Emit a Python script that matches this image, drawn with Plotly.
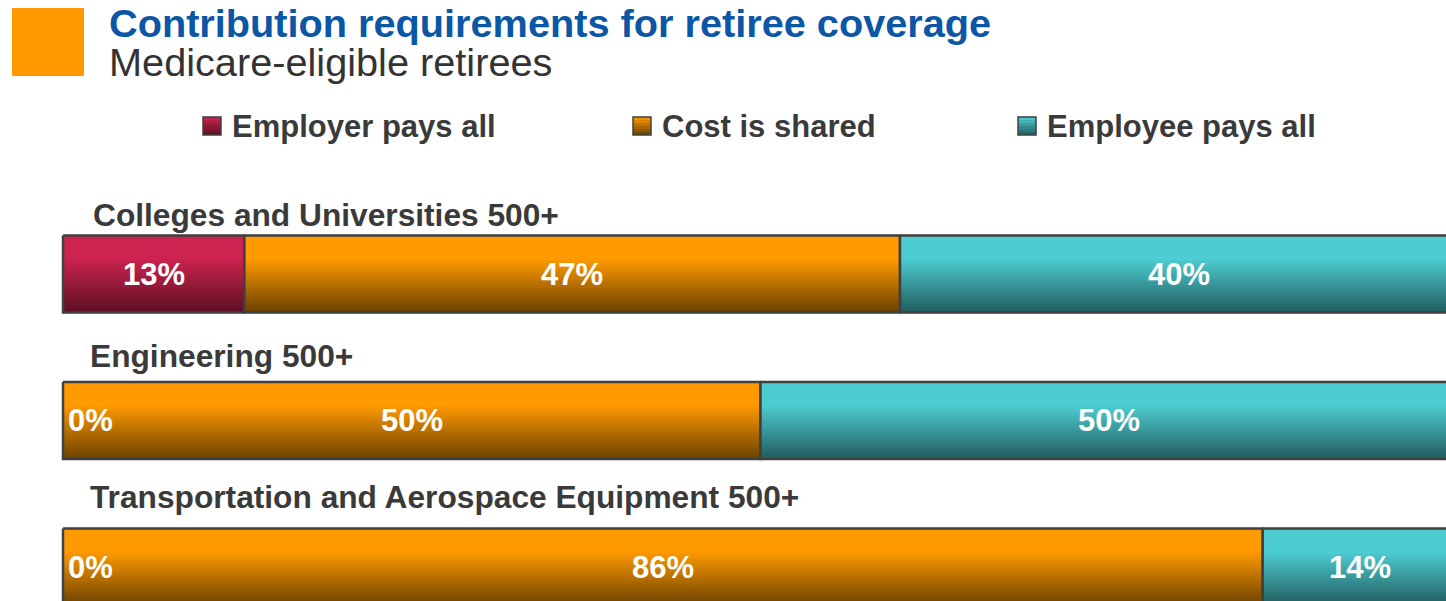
import plotly.graph_objects as go

# ---- data -------------------------------------------------------------
categories = [
    "Colleges and Universities 500+",
    "Engineering 500+",
    "Transportation and Aerospace Equipment 500+",
]
series_names = ["Employer pays all", "Cost is shared", "Employee pays all"]
employer_pays_all = [13, 0, 0]
cost_is_shared = [47, 50, 86]
employee_pays_all = [40, 50, 14]

title_text = "Contribution requirements for retiree coverage"
subtitle_text = "Medicare-eligible retirees"

# ---- styling ------------------------------------------------------------
W, H = 1446, 601
FONT = "Liberation Sans, Arial, sans-serif"
TEXT_DARK = "#3a3a3a"
BORDER = "#404040"
# (top colour, bottom colour) of the vertical gradient for each series
gradients = [
    ("#cc2350", "#5a0f22"),
    ("#ff9a00", "#6a4100"),
    ("#4dcdd2", "#215b5d"),
]

BAR_WIDTH = 0.526          # bar thickness in category units
PX_PER_UNIT_X = 13.95      # horizontal pixels per percentage point
PX_PER_UNIT_Y = 146.5      # vertical pixels between bar centres
LEFT_PX = 63               # pixel where 0 % sits
FIRST_BAR_PX = 274         # pixel centre of the first bar
label_lift = [20, 26, 31]  # gap between category label and bar top (px)

series_values = [employer_pays_all, cost_is_shared, employee_pays_all]


def mix(c1, c2, t):
    a = [int(c1[k:k + 2], 16) for k in (1, 3, 5)]
    b = [int(c2[k:k + 2], 16) for k in (1, 3, 5)]
    return "#" + "".join(f"{round(a[j] + (b[j] - a[j]) * t):02x}" for j in range(3))


fig = go.Figure()
annotations = []

for i, cat in enumerate(categories):
    top = i - BAR_WIDTH / 2
    bot = i + BAR_WIDTH / 2
    left = 0.0
    for s, values in enumerate(series_values):
        v = values[i]
        right = left + v
        if v > 0:
            fig.add_trace(go.Scatter(
                x=[left, right, right, left, left],
                y=[top, top, bot, bot, top],
                mode="lines",
                fill="toself",
                fillgradient=dict(
                    type="vertical",
                    start=top,
                    stop=bot,
                    colorscale=[[0, gradients[s][0]], [0.3, gradients[s][0]],
                                [1, gradients[s][1]]],
                ),
                line=dict(color=BORDER, width=2.5),
                hoverinfo="skip",
                showlegend=False,
                name=series_names[s],
            ))
            annotations.append(dict(
                x=(left + right) / 2, y=i, xref="x", yref="y",
                text=f"{v}%", showarrow=False, xanchor="center", yanchor="middle",
                font=dict(family=FONT, size=31, color="white", weight="bold"),
            ))
        else:
            annotations.append(dict(
                x=left, y=i, xref="x", yref="y", xshift=3,
                text=f"{v}%", showarrow=False, xanchor="left", yanchor="middle",
                font=dict(family=FONT, size=31, color="white", weight="bold"),
            ))
        left = right
    # category label above the bar
    annotations.append(dict(
        x=0, y=top, xref="x", yref="y", xshift=25 if i else 28, yshift=label_lift[i],
        text=cat, showarrow=False, xanchor="left", yanchor="middle",
        font=dict(family=FONT, size=31.7, color=TEXT_DARK, weight="bold"),
    ))


# ---- title block ----------------------------------------------------------
def px(xp):
    return xp / W


def py(yp):
    return 1 - yp / H


shapes = [dict(
    type="rect", xref="paper", yref="paper",
    x0=px(12), x1=px(84), y0=py(76), y1=py(8),
    fillcolor="#ff9900", line=dict(width=0),
)]
annotations.append(dict(
    x=px(107), y=py(23), xref="paper", yref="paper", text=title_text,
    showarrow=False, xanchor="left", yanchor="middle",
    font=dict(family=FONT, size=39.7, color="#0b57a6", weight="bold"),
))
annotations.append(dict(
    x=px(107), y=py(62), xref="paper", yref="paper", text=subtitle_text,
    showarrow=False, xanchor="left", yanchor="middle",
    font=dict(family=FONT, size=39.7, color="#333333"),
))

# ---- legend -----------------------------------------------------------------
legend_key_x = [203, 633, 1018]
KEY_TOP, KEY_BOT, STRIPES = 117, 135, 6
for s, name in enumerate(series_names):
    x0 = legend_key_x[s]
    step = (KEY_BOT - KEY_TOP) / STRIPES
    for k in range(STRIPES):
        shapes.append(dict(
            type="rect", xref="paper", yref="paper",
            x0=px(x0), x1=px(x0 + 18),
            y0=py(KEY_TOP + (k + 1) * step), y1=py(KEY_TOP + k * step),
            fillcolor=mix(gradients[s][0], gradients[s][1], (k + 0.5) / STRIPES),
            line=dict(width=0),
        ))
    shapes.append(dict(
        type="rect", xref="paper", yref="paper",
        x0=px(x0), x1=px(x0 + 18), y0=py(KEY_BOT), y1=py(KEY_TOP),
        fillcolor="rgba(0,0,0,0)", line=dict(color=BORDER, width=1.5),
    ))
    annotations.append(dict(
        x=px(x0 + 27), y=py(126), xref="paper", yref="paper", text=name,
        showarrow=False, xanchor="left", yanchor="middle",
        font=dict(family=FONT, size=31, color=TEXT_DARK, weight="bold"),
    ))

x_lo = -LEFT_PX / PX_PER_UNIT_X
x_hi = (W - LEFT_PX) / PX_PER_UNIT_X
y_top = -FIRST_BAR_PX / PX_PER_UNIT_Y
y_bot = y_top + H / PX_PER_UNIT_Y

fig.update_layout(
    width=W, height=H,
    margin=dict(l=0, r=0, t=0, b=0, pad=0),
    paper_bgcolor="white", plot_bgcolor="white",
    xaxis=dict(range=[x_lo, x_hi], visible=False, fixedrange=True),
    yaxis=dict(range=[y_bot, y_top], visible=False, fixedrange=True),
    shapes=shapes,
    annotations=annotations,
    showlegend=False,
)

fig.write_html("out.html", config={"displayModeBar": False})
